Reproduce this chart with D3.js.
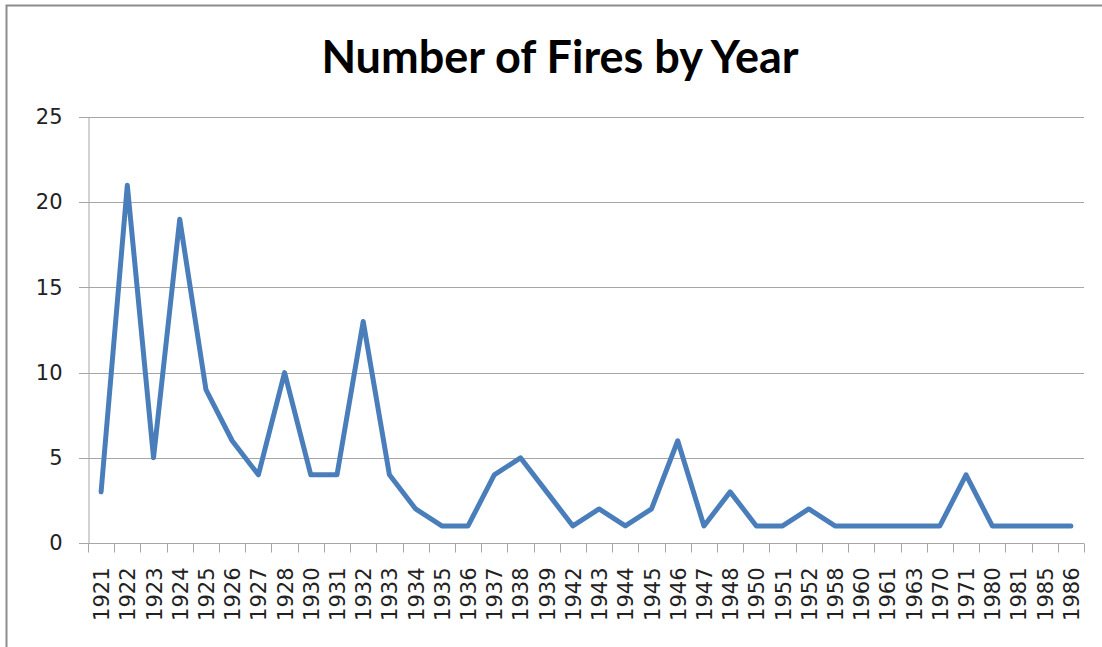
<!DOCTYPE html>
<html>
<head>
<meta charset="utf-8">
<script src="https://cdn.jsdelivr.net/npm/d3@7"></script>
<style>
  body { margin: 0; background: #fff; }
  svg { display: block; }
</style>
</head>
<body>
<svg id="chart" width="1102" height="647"></svg>
<script>
// data
const years = ['1921', '1922', '1923', '1924', '1925', '1926', '1927', '1928', '1930', '1931',
    '1932', '1933', '1934', '1935', '1936', '1937', '1938', '1939', '1942', '1943',
    '1944', '1945', '1946', '1947', '1948', '1950', '1951', '1952', '1958', '1960',
    '1961', '1963', '1970', '1971', '1980', '1981', '1985', '1986']
const fires = [3, 21, 5, 19, 9, 6, 4, 10, 4, 4,
    13, 4, 2, 1, 1, 4, 5, 3, 1, 2,
    1, 2, 6, 1, 3, 1, 1, 2, 1, 1,
    1, 1, 1, 4, 1, 1, 1, 1]
const yTicks = [0, 5, 10, 15, 20, 25]

const data = years.map((y, i) => ({ year: y, value: fires[i] }))

const svg = d3.select('#chart')
const margin = { top: 117, right: 18, bottom: 104, left: 88 }
const width = 1102, height = 647

// outer frame (only top and left edges visible)
svg.append('path')
    .attr('d', `M6.5,${height} V5.5 H${width}`)
    .attr('fill', 'none')
    .attr('stroke', '#8c8c8c')
    .attr('stroke-width', 2)

svg.append('text')
    .attr('x', 560)
    .attr('y', 73)
    .attr('text-anchor', 'middle')
    .attr('font-family', 'Lato, "Open Sans", sans-serif')
    .attr('font-weight', 'bold')
    .attr('font-size', 45)
    .attr('fill', '#000')
    .text('Number of Fires by Year')

const x = d3.scaleBand()
    .domain(years)
    .range([margin.left, width - margin.right])

const y = d3.scaleLinear()
    .domain([0, 25])
    .range([height - margin.bottom, margin.top])

// gridlines
svg.append('g')
    .selectAll('line')
    .data(yTicks)
    .join('line')
    .attr('x1', margin.left - 9)
    .attr('x2', width - margin.right)
    .attr('y1', d => Math.round(y(d)) + 0.5)
    .attr('y2', d => Math.round(y(d)) + 0.5)
    .attr('stroke', '#a6a6a6')
    .attr('stroke-width', 1)

// y axis
const yAxis = svg.append('g')
    .attr('transform', `translate(${margin.left + 0.5},0)`)
    .call(d3.axisLeft(y).tickValues(yTicks).tickSize(0).tickPadding(26))
yAxis.select('.domain').attr('stroke', '#a6a6a6')
yAxis.selectAll('text')
    .attr('font-family', '"DejaVu Sans", sans-serif')
    .attr('font-size', 21)
    .attr('fill', '#222')

// x axis, ticks between categories
const xAxis = svg.append('g')
    .attr('transform', `translate(0,${Math.round(y(0)) + 0.5})`)
xAxis.append('line')
    .attr('x1', margin.left)
    .attr('x2', width - margin.right)
    .attr('stroke', '#a6a6a6')
xAxis.selectAll('.tick-mark')
    .data([...years, null])
    .join('line')
    .attr('class', 'tick-mark')
    .attr('x1', (d, i) => Math.round(margin.left + i * x.step()) + 0.5)
    .attr('x2', (d, i) => Math.round(margin.left + i * x.step()) + 0.5)
    .attr('y1', 0)
    .attr('y2', 9)
    .attr('stroke', '#a6a6a6')
xAxis.selectAll('.tick-label')
    .data(years)
    .join('text')
    .attr('class', 'tick-label')
    .attr('transform', d => `translate(${x(d) + x.bandwidth() / 2 + 8},24) rotate(-90)`)
    .attr('text-anchor', 'end')
    .attr('font-family', '"DejaVu Sans", sans-serif')
    .attr('font-size', 21)
    .attr('fill', '#222')
    .text(d => d)

// the line
const line = d3.line()
    .x(d => x(d.year) + x.bandwidth() / 2)
    .y(d => y(d.value))

svg.append('path')
    .datum(data)
    .attr('d', line)
    .attr('fill', 'none')
    .attr('stroke', '#4a7ebb')
    .attr('stroke-width', 5)
    .attr('stroke-linejoin', 'round')
    .attr('stroke-linecap', 'round')
</script>
</body>
</html>
